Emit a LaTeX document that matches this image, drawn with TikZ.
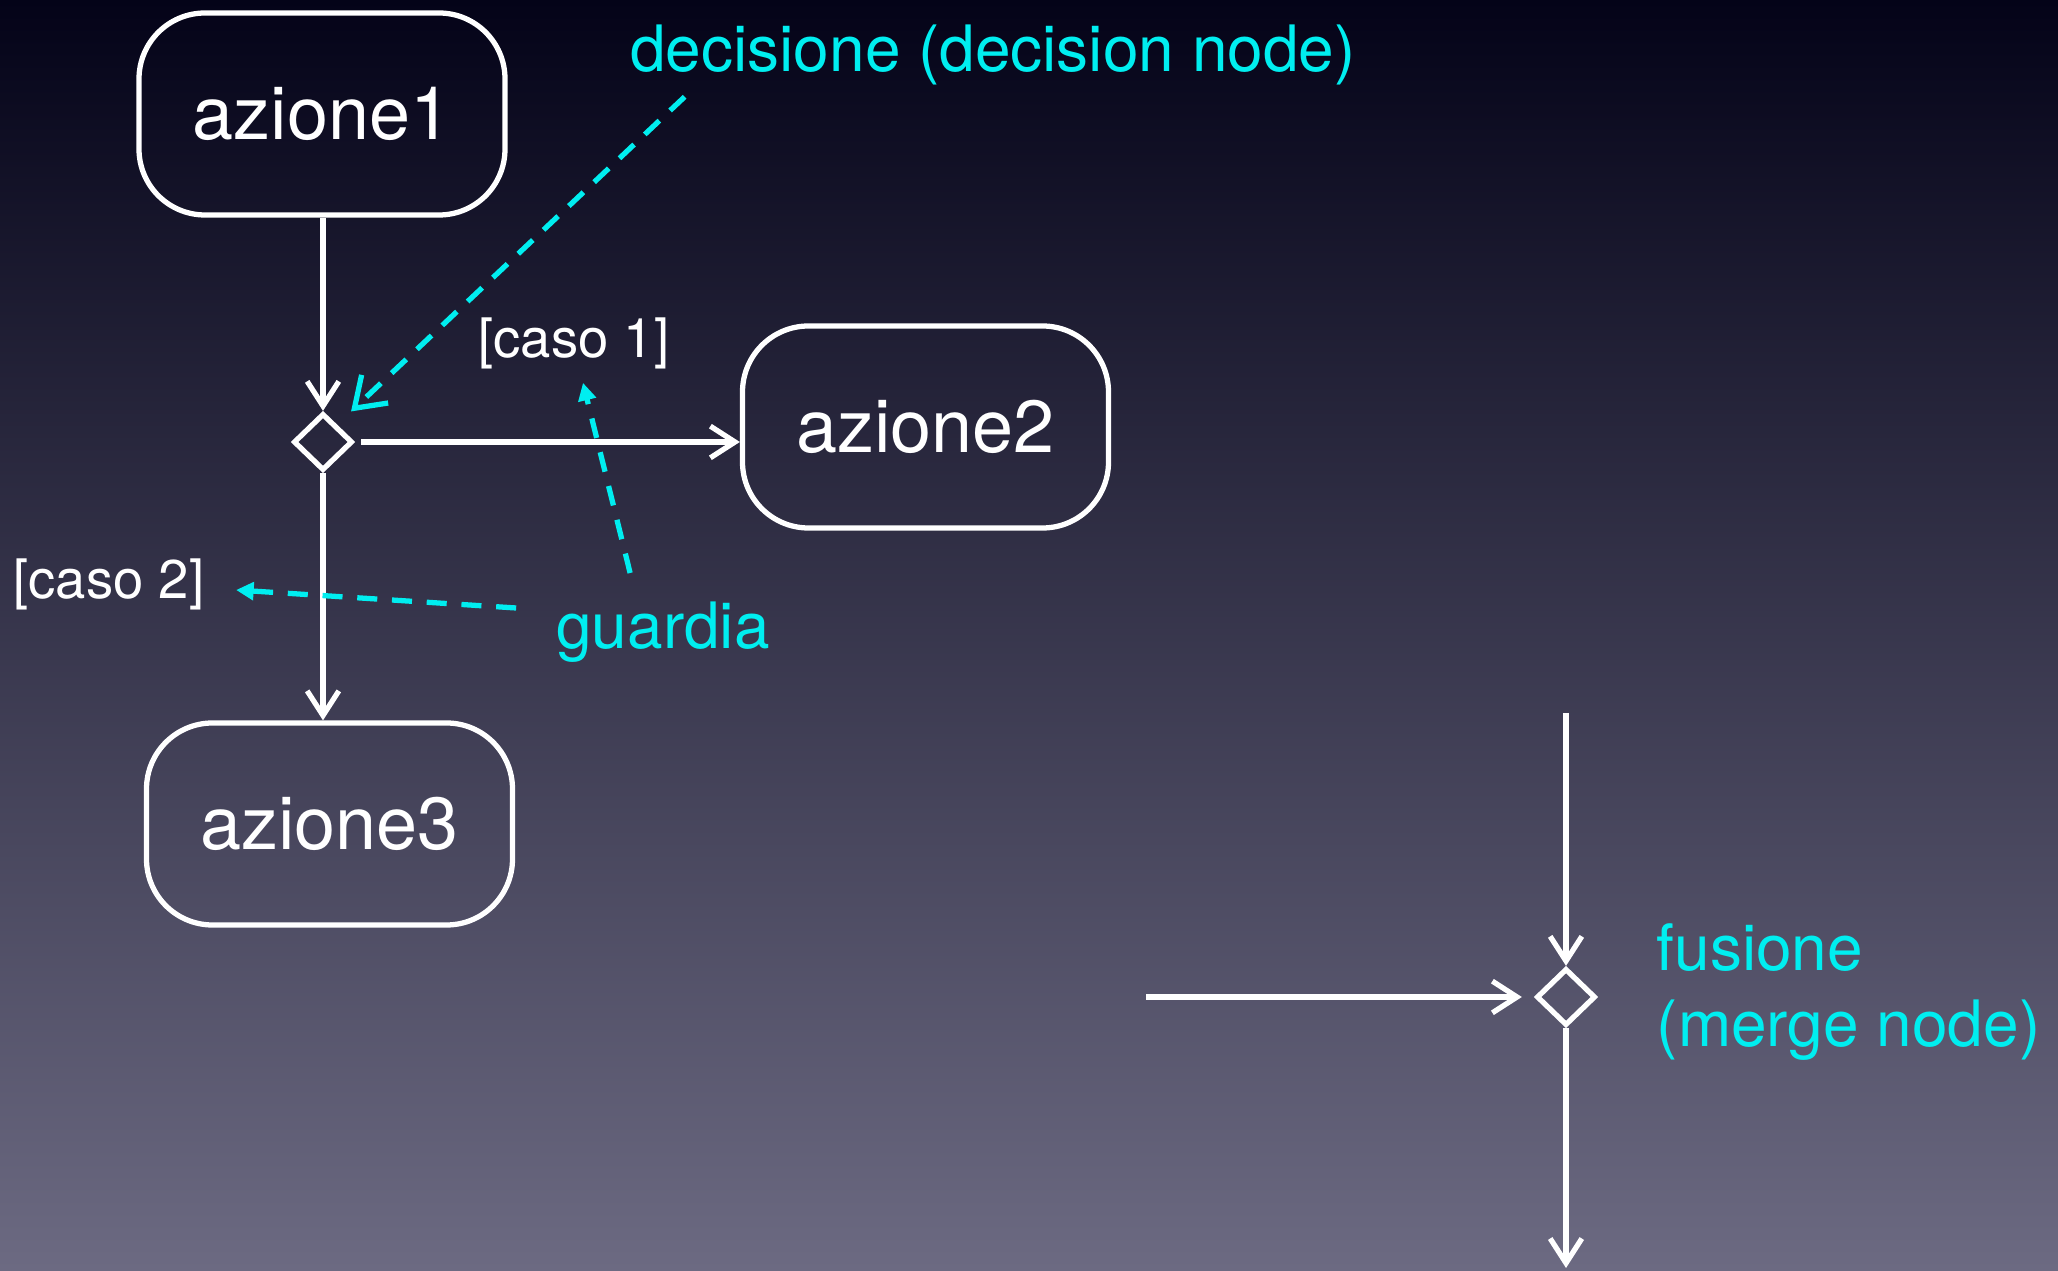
\documentclass[tikz,border=0pt]{standalone}
\usepackage{fontspec}
\setmainfont{TeX Gyre Heros}
\usetikzlibrary{arrows.meta,shapes.geometric}
\definecolor{bgtop}{RGB}{4,3,24}
\definecolor{bgmid}{RGB}{50,48,82}
\definecolor{bgbottom}{RGB}{108,106,130}
\definecolor{hintcyan}{RGB}{0,238,240}

\begin{document}
\begin{tikzpicture}[>={Straight Barb[length=7pt,width=9pt]},
  act/.style={draw=white, line width=1.5pt, rounded corners=0.66cm, minimum width=3.66cm, minimum height=2.02cm, text=white, font=\fontsize{21}{24}\selectfont},
  dmd/.style={draw=white, diamond, line width=1.5pt, inner sep=0pt, minimum width=0.59cm, minimum height=0.57cm},
  flow/.style={->, white, line width=1.5pt},
  guard/.style={text=white, inner sep=0pt, font=\fontsize{15.5}{18}\selectfont},
  note/.style={text=hintcyan, inner sep=0pt, font=\fontsize{18.2}{21.5}\selectfont},
  hint/.style={hintcyan, line width=1.5pt, dash pattern=on 5.7pt off 4.2pt}]
% background
\shade[top color=bgtop, middle color=bgmid, bottom color=bgbottom] (0,0) rectangle (20.58,12.70);
\useasboundingbox (0,0) rectangle (20.58,12.70);
% DECISION: actions and decision node
\node[act] (a1) at (3.22,11.56) {\raisebox{-0.04cm}{azione1}};
\node[act] (a2) at (9.255,8.43) {\raisebox{-0.04cm}{azione2}};
\node[act] (a3) at (3.295,4.46) {\raisebox{-0.04cm}{azione3}};
\node[dmd] (dec) at (3.23,8.28) {};
\node[guard] (c1) at (5.74,9.27) {[caso 1]};
\node[guard] (c2) at (1.09,6.86) {[caso 2]};
\draw[flow] (a1.south -| dec.north) -- (dec.north);
\draw[flow, shorten <=0.06cm] (dec.east) -- (dec.east -| a2.west);
\draw[flow] (dec.south) -- (dec.south |- a3.north);
% notes
\node[note] (ldec) at (9.93,12.15) {decisione (decision node)};
\node[note] (lguard) at (6.63,6.38) {guardia};
\draw[hint, -{Straight Barb[length=8pt,width=11pt]}] ([xshift=0.55cm,yshift=-0.11cm]ldec.south west) -- ([xshift=0.12cm,yshift=0.15cm]dec.north east);
\draw[hint, -{Triangle[length=5pt,width=5pt]}] ([xshift=0.745cm,yshift=0.28cm]lguard.north west) -- ([xshift=0.09cm,yshift=-0.135cm]c1.south);
\draw[hint, -{Triangle[length=5pt,width=5pt]}] ([xshift=-0.395cm,yshift=0.24cm]lguard.west) -- ([xshift=0.31cm,yshift=-0.06cm]c2.east);
% MERGE
\node[dmd] (mrg) at (15.66,2.73) {};
\node[note, align=left, anchor=west] (lmrg) at (16.56,2.78) {fusione\\(merge node)};
\coordinate (min) at (15.66,5.57);
\coordinate (lin) at (11.46,2.73);
\coordinate (mout) at (15.66,0.02);
\draw[flow] (min) -- (mrg.north);
\draw[flow, shorten >=0.12cm] (lin) -- (mrg.west);
\draw[flow] (mrg.south) -- (mout);
\end{tikzpicture}
\end{document}
